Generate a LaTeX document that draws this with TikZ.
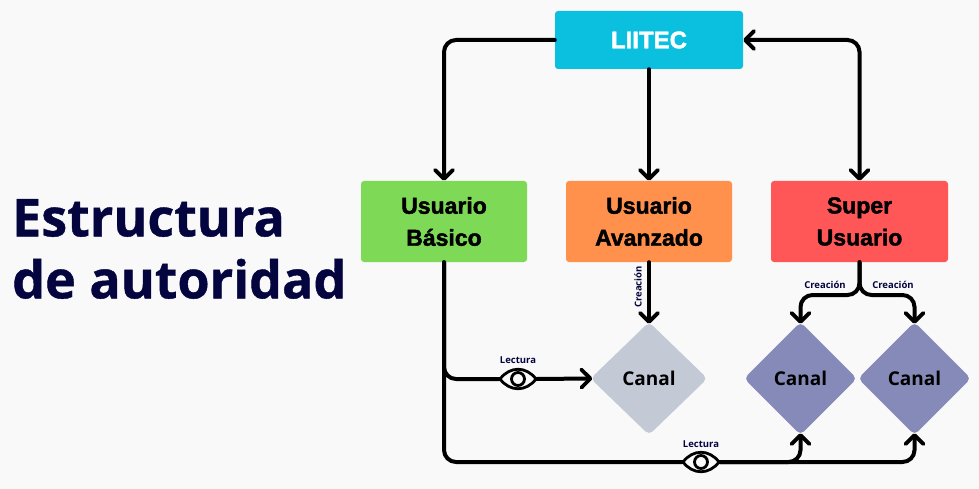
\documentclass[tikz,border=0pt]{standalone}
\usepackage{fontspec}
\usetikzlibrary{arrows.meta,shapes.geometric}
\setmainfont{Liberation Sans}[BoldFeatures={FakeBold=1.8}]
\newfontfamily\titlefont{Open Sans}[BoldFeatures={FakeBold=0.8}]
\newfontfamily\smallfont{Open Sans}
\definecolor{fondo}{RGB}{249,249,249}
\definecolor{tinta}{RGB}{4,4,63}
\definecolor{cian}{RGB}{11,192,223}
\definecolor{verde}{RGB}{126,217,87}
\definecolor{naranja}{RGB}{255,145,77}
\definecolor{rojo}{RGB}{255,87,87}
\definecolor{gris}{RGB}{195,202,214}
\definecolor{azul}{RGB}{133,138,184}
\tikzset{
  punta/.tip={Straight Barb[length=9pt,width=18pt,line width=3.8pt,round]},
  caja/.style={rounded corners=3pt,minimum height=81,inner sep=0pt,align=center,
    font=\fontsize{23}{32}\selectfont\bfseries},
  rombo/.style={diamond,rounded corners=5pt,minimum width=113,minimum height=113,inner sep=0pt,
    font=\smallfont\fontsize{19}{22}\selectfont\bfseries},
  conn/.style={line width=4pt,rounded corners=12pt,line cap=round},
  flecha/.style={conn,-punta},
  flechar/.style={flecha,shorten >=-2pt},
  etiqueta/.style={inner sep=0pt,text=tinta,font=\smallfont\fontsize{9.5}{11}\selectfont\bfseries},
  ojobox/.style={inner sep=0pt,minimum width=37,minimum height=20},
  ojo/.pic={
    \draw[line width=2.8pt,fill=fondo] (-18,0) .. controls (-8,-13) and (8,-13) .. (18,0)
      .. controls (8,13) and (-8,13) .. (-18,0) -- cycle;
    \draw[line width=2.8pt] (0,0) circle (6.5);
  }
}
\begin{document}
\begin{tikzpicture}[x=1pt,y=-1pt]
  \fill[fondo] (0,0) rectangle (979,489);

  % title
  \node[anchor=west,inner sep=0pt,align=left,text=tinta,font=\titlefont\fontsize{52}{62}\selectfont\bfseries] (titulo) at (12,249) {Estructura\\de autoridad};

  % boxes
  \node[caja,fill=cian,minimum width=188,minimum height=58,text=white,font=\fontsize{24}{32}\selectfont\bfseries] (liitec) at (649,40) {LIITEC};
  \node[caja,fill=verde,minimum width=166] (basico) at (444,221.5) {Usuario\\Básico};
  \node[caja,fill=naranja,minimum width=166] (avanzado) at (649,221.5) {Usuario\\Avanzado};
  \node[caja,fill=rojo,minimum width=177] (superu) at (859.5,221.5) {Super\\Usuario};

  % channels
  \node[rombo,fill=gris,minimum width=117] (canalA) at (649,378.5) {Canal};
  \node[rombo,fill=azul] (canalB) at (800.5,378.5) {Canal};
  \node[rombo,fill=azul] (canalC) at (914.5,378.5) {Canal};

  % eyes and branch point
  \node[ojobox] (ojoA) at (518,379) {};
  \node[ojobox] (ojoB) at (701,462) {};
  \coordinate (rama) at (859.5,295);

  % top connectors
  \draw[flecha] (liitec.west) -| (basico.north);
  \draw[flecha] (liitec.south) -- (avanzado.north);
  \draw[conn,punta-punta] (liitec.east) -| (superu.north);

  % creation
  \draw[flechar] (avanzado.south) -- (canalA.north);
  \draw[flechar] (superu.south) -- (rama) -| (canalB.north);
  \draw[flechar] (superu.south) -- (rama) -| (canalC.north);

  % reading
  \draw[conn] (basico.south) |- (ojoA.west);
  \draw[flechar] (ojoA.east) -- (canalA.west);
  \draw[conn] (basico.south) |- (ojoB.west);
  \draw[flechar] (ojoB.east) -| (canalB.south);
  \draw[flechar] (ojoB.east) -| (canalC.south);
  \pic at (ojoA) {ojo};
  \pic at (ojoB) {ojo};

  % labels
  \node[etiqueta] (lecturaA) at (518,360.5) {Lectura};
  \node[etiqueta] (lecturaB) at (701,444.5) {Lectura};
  \node[etiqueta,rotate=90] (creacionA) at (638,287) {Creación};
  \node[etiqueta] (creacionB) at (825,284.5) {Creación};
  \node[etiqueta] (creacionC) at (893,284.5) {Creación};
\end{tikzpicture}
\end{document}
